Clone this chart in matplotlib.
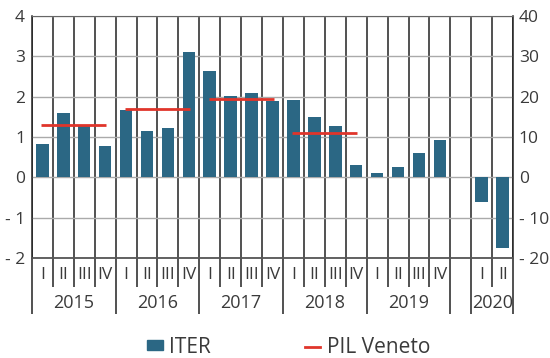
import matplotlib.pyplot as plt
from matplotlib.patches import Patch
from matplotlib.lines import Line2D
from matplotlib.ticker import FixedLocator, FuncFormatter

plt.rcParams['font.family'] = ['Open Sans', 'DejaVu Sans']

# ITER quarterly values (left scale), 2015 Q1 - 2019 Q4
years = ["2015", "2016", "2017", "2018", "2019"]
quarters = ["I", "II", "III", "IV"]
iter_values = [0.82, 1.60, 1.29, 0.77,
               1.68, 1.15, 1.22, 3.12,
               2.64, 2.02, 2.09, 1.89,
               1.91, 1.50, 1.27, 0.30,
               0.12, 0.26, 0.60, 0.92]
# 2020 values read on the right scale
year_2020 = "2020"
quarters_2020 = ["I", "II"]
iter_2020 = [-6.0, -17.5]
# PIL Veneto annual growth (left scale)
pil_years = ["2015", "2016", "2017", "2018"]
pil_values = [1.31, 1.69, 1.95, 1.09]

bar_color = "#2b6784"
red = "#e0352b"
text_color = "#3a3a3a"

fig = plt.figure(figsize=(5.5, 3.58), dpi=100)
ax = fig.add_axes([0.058, 0.279, 0.875, 0.676])
ax2 = ax.twinx()

n = len(iter_values)
x_main = list(range(n))
x_2020 = [n + 1, n + 2]  # one empty slot before 2020

ax.bar(x_main, iter_values, width=0.6, color=bar_color, zorder=3)
ax2.bar(x_2020, iter_2020, width=0.6, color=bar_color, zorder=3)

for i, v in enumerate(pil_values):
    x0 = i * 4
    ax.plot([x0 - 0.05, x0 + 3.05], [v, v], color=red, lw=2, zorder=4,
            solid_capstyle="butt")

ax.set_xlim(-0.5, n + 2.5)
ax.set_ylim(-2, 4)
ax2.set_ylim(-20, 40)
ax.set_yticks(range(-2, 5))
ax2.set_yticks(range(-20, 41, 10))

fmt = FuncFormatter(lambda v, p: f"- {abs(int(v))}" if v < 0 else f"{int(v)}")
ax.yaxis.set_major_formatter(fmt)
ax2.yaxis.set_major_formatter(fmt)
ax.tick_params(axis="y", length=0, pad=5, labelsize=12.5, labelcolor=text_color)
ax2.tick_params(axis="y", length=0, pad=4, labelsize=12.5, labelcolor=text_color)

# slot boundaries: long ticks between years, short between quarters
year_bounds = [-0.5, 3.5, 7.5, 11.5, 15.5, 19.5, 20.5, 22.5]
all_bounds = [b - 0.5 for b in range(n + 4)]
quarter_bounds = [b for b in all_bounds if b not in year_bounds]
ax.xaxis.set_major_locator(FixedLocator(year_bounds))
ax.xaxis.set_minor_locator(FixedLocator(quarter_bounds))
ax.xaxis.set_major_formatter(FuncFormatter(lambda v, p: ""))
ax.tick_params(axis="x", which="major", length=40, width=1.1, color="#222222")
ax.tick_params(axis="x", which="minor", length=21, width=1.1, color="#222222")
ax.xaxis.grid(True, which="both", color="#222222", lw=1.1, zorder=1)
ax.yaxis.grid(True, color="#aaaaaa", lw=1, zorder=0)
ax.set_axisbelow(True)

for spine in ["left", "right"]:
    ax.spines[spine].set_color("#222222")
    ax.spines[spine].set_linewidth(1.1)
ax.spines["top"].set_color("#666666")
ax.spines["bottom"].set_color("#555555")
ax.spines["bottom"].set_linewidth(1.3)
for spine in ax2.spines.values():
    spine.set_visible(False)

trans = ax.get_xaxis_transform()
for yi, year in enumerate(years):
    for qi, q in enumerate(quarters):
        ax.text(yi * 4 + qi, -0.07, q, transform=trans, ha="center", va="center",
                fontsize=12.5, color=text_color)
    ax.text(yi * 4 + 1.5, -0.186, year, transform=trans, ha="center",
            va="center", fontsize=13, color=text_color)
for qi, q in enumerate(quarters_2020):
    ax.text(x_2020[qi], -0.07, q, transform=trans, ha="center", va="center",
            fontsize=12.5, color=text_color)
ax.text((x_2020[0] + x_2020[1]) / 2, -0.186, year_2020, transform=trans,
        ha="center", va="center", fontsize=13, color=text_color)

handles = [Patch(color=bar_color, label="ITER"),
           Line2D([], [], color=red, lw=2, label="PIL Veneto")]
fig.legend(handles=handles, loc="center", bbox_to_anchor=(0.525, 0.03), ncol=2,
           frameon=False, fontsize=15, handlelength=0.75, handleheight=0.35,
           handletextpad=0.3, columnspacing=4.5, labelcolor=text_color)

fig.savefig("out.png", dpi=100)
